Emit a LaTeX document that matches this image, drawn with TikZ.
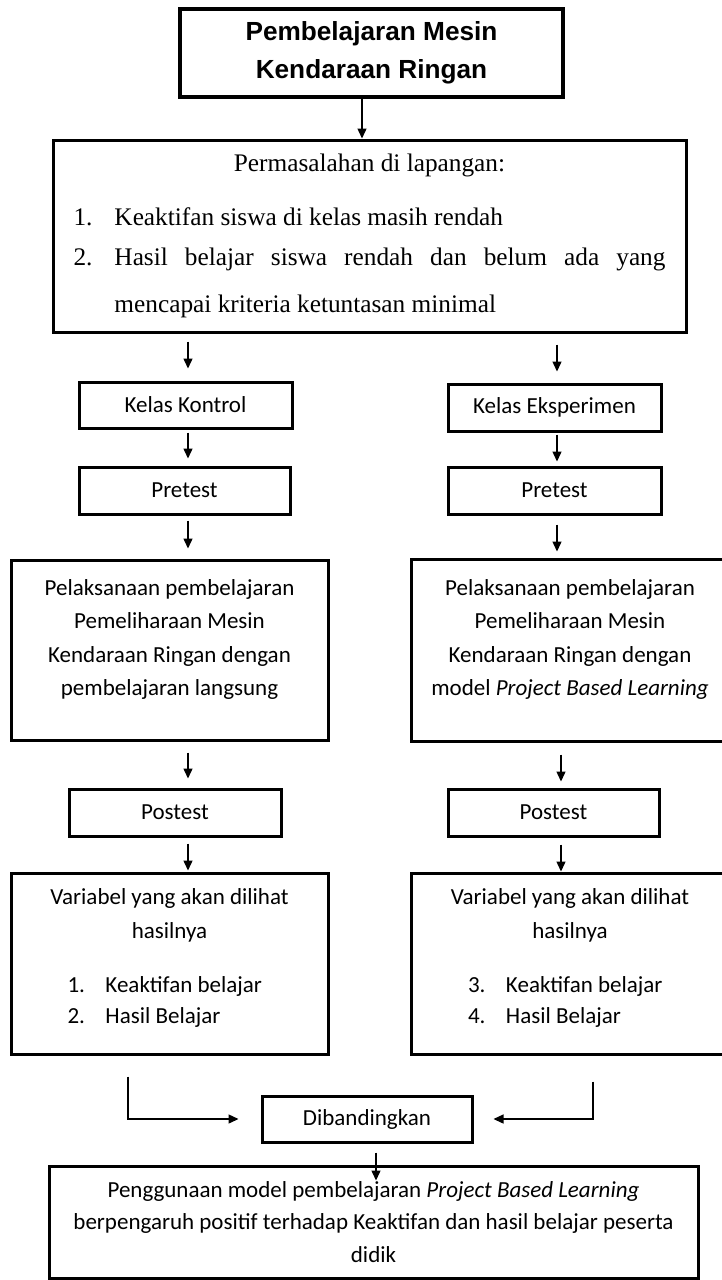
\documentclass[tikz,border=0pt]{standalone}
\usepackage{fontspec}
\setmainfont{Carlito}
\newfontfamily\serifbox{Liberation Serif}
\newfontfamily\headbox{Liberation Sans}
\usetikzlibrary{arrows.meta}

\tikzset{
	box/.style={draw, line width=1.5pt, inner sep=0pt, align=center,
		font=\fontsize{11.5}{16.75}\selectfont},
	arr/.style={-{Triangle[length=5pt,width=4.5pt]}, line width=0.7pt}
}

\begin{document}
\begin{tikzpicture}[x=0.5pt, y=-0.5pt]
	\clip (0,0) rectangle (722,1280);
	
	% Columns for the arrows
	\coordinate (cT) at (362,0);
	\coordinate (cL) at (188,0);
	\coordinate (cR) at (557,0);
	\coordinate (cR2) at (561,0);
	\coordinate (cBL) at (128,0);
	\coordinate (cBR) at (593,0);
	\coordinate (cD) at (376,0);
	
	% Top
	\node[box, line width=1.7pt, minimum width=191.5pt, minimum height=44pt,
		font=\headbox\bfseries\fontsize{13.1}{19}\selectfont] (top) at (371.5,53)
		{Pembelajaran Mesin\\ Kendaraan Ringan};
	
	% Problems
	\node[box, minimum width=316.5pt, minimum height=96pt, text width=296pt, align=justify,
		font=\serifbox\fontsize{12.65}{23.5}\selectfont] (prob) at (369.5,236)
		{{\centering Permasalahan di lapangan:\par}\vspace{3.5pt}
		\noindent\makebox[20.5pt][l]{1.}Keaktifan siswa di kelas masih rendah\par\vspace{-3.5pt}
		\hangindent=20.5pt\hangafter=1\noindent\makebox[20.5pt][l]{2.}Hasil belajar siswa rendah dan belum ada yang\linebreak mencapai kriteria ketuntasan minimal\par};
	
	% Left column
	\node[box, minimum width=106.5pt, minimum height=23pt] (kk) at (185.5,405) {Kelas Kontrol};
	\node[box, minimum width=105.5pt, minimum height=23.5pt] (preK) at (184.5,490.5) {Pretest};
	\node[box, minimum width=158.5pt, minimum height=90pt] (plK) at (169.5,650)
		{Pelaksanaan pembelajaran\\ Pemeliharaan Mesin\\ Kendaraan Ringan dengan\\ pembelajaran langsung\\[-4.25pt]\mbox{}};
	\node[box, minimum width=106pt, minimum height=23.5pt] (postK) at (175,812.5) {Postest};
	\node[box, minimum width=158.5pt, minimum height=90.5pt] (varK) at (169.5,963.5)
		{Variabel yang akan dilihat\\ hasilnya\\[10.25pt]
		\makebox[102pt][l]{\makebox[19pt][l]{1.}Keaktifan belajar}\\[-1.25pt]
		\makebox[102pt][l]{\makebox[19pt][l]{2.}Hasil Belajar}\\[-9.45pt]\mbox{}};
	
	% Right column
	\node[box, minimum width=106.5pt, minimum height=23.5pt] (ke) at (554.5,407.5) {Kelas Eksperimen};
	\node[box, minimum width=106.5pt, minimum height=23.5pt] (preE) at (554.5,490.5) {Pretest};
	\node[box, minimum width=159pt, minimum height=91pt] (plE) at (570,650)
		{Pelaksanaan pembelajaran\\ Pemeliharaan Mesin\\ Kendaraan Ringan dengan\\ model \textit{Project Based Learning}\\[-4.25pt]\mbox{}};
	\node[box, minimum width=105.5pt, minimum height=23.5pt] (postE) at (553.5,812.5) {Postest};
	\node[box, minimum width=159pt, minimum height=90.5pt] (varE) at (570,963.5)
		{Variabel yang akan dilihat\\ hasilnya\\[10.25pt]
		\makebox[102pt][l]{\makebox[19pt][l]{3.}Keaktifan belajar}\\[-1.25pt]
		\makebox[102pt][l]{\makebox[19pt][l]{4.}Hasil Belajar}\\[-9.45pt]\mbox{}};
	
	% Bottom
	\node[box, minimum width=105pt, minimum height=23pt] (dib) at (367,1119) {Dibandingkan};
	\node[box, minimum width=324.5pt, minimum height=56pt,
		font=\fontsize{11.5}{16.25}\selectfont] (hasil) at (373.5,1222)
		{Penggunaan model pembelajaran \textit{Project Based Learning}\\
		berpengaruh positif terhadap Keaktifan dan hasil belajar peserta\\ didik};
	
	% Arrows
	\draw[arr] (top.south -| cT) -- (prob.north -| cT);
	
	\draw[arr, shorten <=4pt, shorten >=6pt] (prob.south -| cL) -- (kk.north -| cL);
	\draw[arr, shorten <=1.5pt, shorten >=3.5pt] (kk.south -| cL) -- (preK.north -| cL);
	\draw[arr, shorten <=2.5pt, shorten >=5pt] (preK.south -| cL) -- (plK.north -| cL);
	\draw[arr, shorten <=5.5pt, shorten >=4.5pt] (plK.south -| cL) -- (postK.north -| cL);
	\draw[arr, shorten <=3pt, shorten >=0.5pt] (postK.south -| cL) -- (varK.north -| cL);
	
	\draw[arr, shorten <=5.5pt, shorten >=5.5pt] (prob.south -| cR) -- (ke.north -| cR);
	\draw[arr, shorten <=1pt, shorten >=2pt] (ke.south -| cR) -- (preE.north -| cR);
	\draw[arr, shorten <=4.5pt, shorten >=3pt] (preE.south -| cR) -- (plE.north -| cR);
	\draw[arr, shorten <=6pt, shorten >=3pt] (plE.south -| cR2) -- (postE.north -| cR2);
	\draw[arr, shorten <=3.5pt] (postE.south -| cR2) -- (varE.north -| cR2);
	
	\draw[arr, shorten <=10.5pt, shorten >=11pt] (varK.south -| cBL) |- (dib.west);
	\draw[arr, shorten <=13pt, shorten >=10pt] (varE.south -| cBR) |- (dib.east);
	\draw[arr, shorten <=4.5pt, shorten >=-8pt] (dib.south -| cD) -- (hasil.north -| cD);
\end{tikzpicture}
\end{document}
